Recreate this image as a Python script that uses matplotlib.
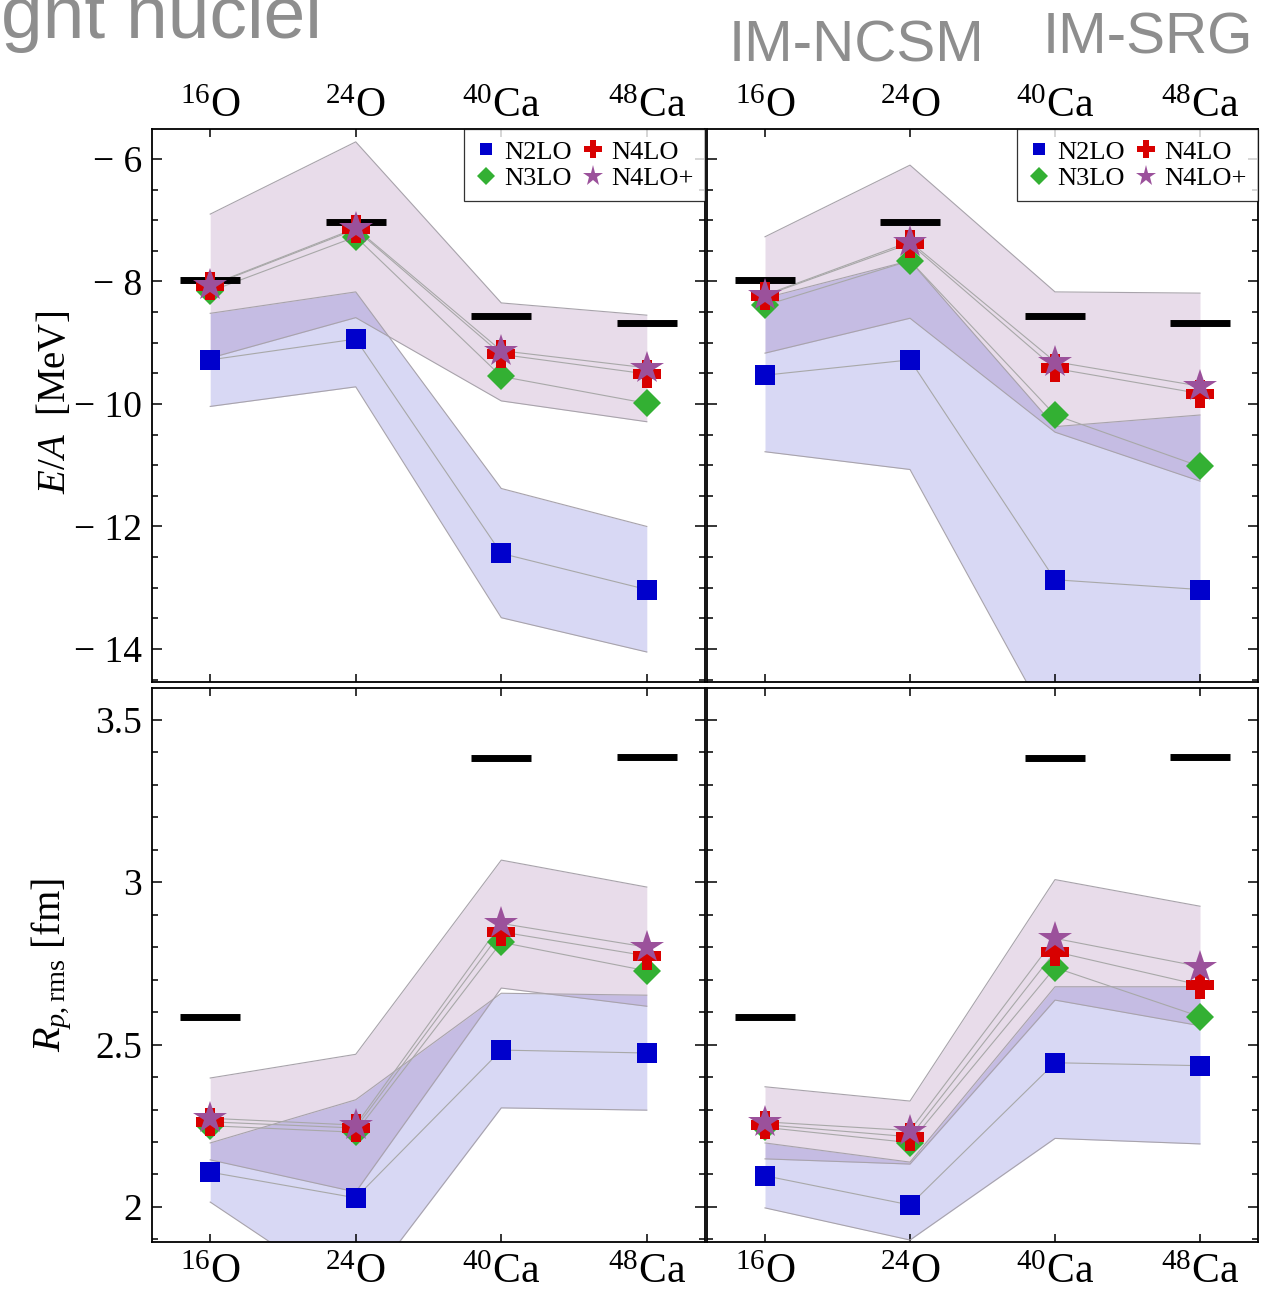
import numpy as np
import matplotlib
matplotlib.use("Agg")
import matplotlib.pyplot as plt
from matplotlib.lines import Line2D
from matplotlib.ticker import MultipleLocator, FixedLocator, FixedFormatter

plt.rcParams['font.family'] = ['Liberation Serif', 'DejaVu Serif']
plt.rcParams['mathtext.fontset'] = 'custom'
plt.rcParams['mathtext.rm'] = 'Liberation Serif'
plt.rcParams['mathtext.it'] = 'Liberation Serif:italic'
plt.rcParams['mathtext.bf'] = 'Liberation Serif:bold'

# ---------------- data ----------------
nuclei = [r'$^{16}$O', r'$^{24}$O', r'$^{40}$Ca', r'$^{48}$Ca']
orders = ['N2LO', 'N3LO', 'N4LO', 'N4LO+']

# binding energy per nucleon [MeV]
ea_exp = [-7.98, -7.03, -8.56, -8.68]

ea_ncsm_n2lo = [-9.28, -8.94, -12.44, -13.03]
ea_ncsm_n3lo = [-8.16, -7.27, -9.55, -9.99]
ea_ncsm_n4lo = [-8.07, -7.15, -9.19, -9.51]
ea_ncsm_n4lop = [-8.06, -7.13, -9.13, -9.41]
ea_ncsm_band_hi_hi = [-6.90, -5.72, -8.35, -8.55]
ea_ncsm_band_hi_lo = [-9.25, -8.59, -9.95, -10.29]
ea_ncsm_band_lo_hi = [-8.52, -8.17, -11.38, -12.00]
ea_ncsm_band_lo_lo = [-10.04, -9.72, -13.49, -14.05]

ea_srg_n2lo = [-9.53, -9.28, -12.87, -13.03]
ea_srg_n3lo = [-8.39, -7.66, -10.18, -11.02]
ea_srg_n4lo = [-8.23, -7.38, -9.42, -9.83]
ea_srg_n4lop = [-8.22, -7.35, -9.31, -9.71]
ea_srg_band_hi_hi = [-7.27, -6.10, -8.17, -8.19]
ea_srg_band_hi_lo = [-9.17, -8.60, -10.46, -11.26]
ea_srg_band_lo_hi = [-8.27, -7.66, -10.37, -10.18]
ea_srg_band_lo_lo = [-10.78, -11.07, -15.39, -15.80]

# point-proton rms radius [fm]
r_exp = [2.585, np.nan, 3.382, 3.385]

r_ncsm_n2lo = [2.107, 2.028, 2.483, 2.474]
r_ncsm_n3lo = [2.250, 2.230, 2.815, 2.727]
r_ncsm_n4lo = [2.262, 2.243, 2.847, 2.773]
r_ncsm_n4lop = [2.273, 2.252, 2.873, 2.800]
r_ncsm_band_hi_hi = [2.397, 2.470, 3.068, 2.985]
r_ncsm_band_hi_lo = [2.145, 2.046, 2.674, 2.618]
r_ncsm_band_lo_hi = [2.197, 2.330, 2.658, 2.652]
r_ncsm_band_lo_lo = [2.015, 1.715, 2.305, 2.298]

r_srg_n2lo = [2.096, 2.006, 2.444, 2.435]
r_srg_n3lo = [2.245, 2.198, 2.737, 2.586]
r_srg_n4lo = [2.253, 2.216, 2.786, 2.683]
r_srg_n4lop = [2.262, 2.235, 2.827, 2.740]
r_srg_band_hi_hi = [2.370, 2.326, 3.008, 2.926]
r_srg_band_hi_lo = [2.148, 2.132, 2.637, 2.558]
r_srg_band_lo_hi = [2.197, 2.138, 2.678, 2.678]
r_srg_band_lo_lo = [1.997, 1.898, 2.211, 2.194]

# ---------------- style ----------------
W, H = 1281, 1310
BAND_HI = (0.55, 0.315, 0.59)
BAND_LO = (0.235, 0.235, 0.785)
EDGE = (0.66, 0.64, 0.67)
LINK = (0.66, 0.66, 0.66)
marker_style = {
    'N2LO': dict(marker='s', color='#0000CC', ms=14),
    'N3LO': dict(marker='D', color='#33B033', ms=14),
    'N4LO': dict(marker='P', color='#D80000', ms=20),
    'N4LO+': dict(marker='*', color='#9B519B', ms=25),
}
YTICK_FS = 27
XTICK_FS = 30
GRAY_TXT = '#8E8E8E'

fig = plt.figure(figsize=(W / 100, H / 100), dpi=100)


def px_axes(x0, y0, x1, y1):
    return fig.add_axes([x0 / W, 1 - y1 / H, (x1 - x0) / W, (y1 - y0) / H])


ax_tl = px_axes(152, 129, 705, 682)
ax_tr = px_axes(707, 129, 1258, 682)
ax_bl = px_axes(152, 688, 705, 1242)
ax_br = px_axes(707, 688, 1258, 1242)

panels = [
    (ax_tl, ea_exp, [ea_ncsm_n2lo, ea_ncsm_n3lo, ea_ncsm_n4lo, ea_ncsm_n4lop],
     (ea_ncsm_band_hi_lo, ea_ncsm_band_hi_hi), (ea_ncsm_band_lo_lo, ea_ncsm_band_lo_hi)),
    (ax_tr, ea_exp, [ea_srg_n2lo, ea_srg_n3lo, ea_srg_n4lo, ea_srg_n4lop],
     (ea_srg_band_hi_lo, ea_srg_band_hi_hi), (ea_srg_band_lo_lo, ea_srg_band_lo_hi)),
    (ax_bl, r_exp, [r_ncsm_n2lo, r_ncsm_n3lo, r_ncsm_n4lo, r_ncsm_n4lop],
     (r_ncsm_band_hi_lo, r_ncsm_band_hi_hi), (r_ncsm_band_lo_lo, r_ncsm_band_lo_hi)),
    (ax_br, r_exp, [r_srg_n2lo, r_srg_n3lo, r_srg_n4lo, r_srg_n4lop],
     (r_srg_band_hi_lo, r_srg_band_hi_hi), (r_srg_band_lo_lo, r_srg_band_lo_hi)),
]

x = np.arange(len(nuclei))
for ax, exp, series, band_hi, band_lo in panels:
    ax.fill_between(x, band_hi[0], band_hi[1], color=BAND_HI, alpha=0.2, lw=0, zorder=1)
    ax.fill_between(x, band_lo[0], band_lo[1], color=BAND_LO, alpha=0.2, lw=0, zorder=1)
    for edge in (*band_hi, *band_lo):
        ax.plot(x, edge, color=EDGE, lw=0.8, zorder=2)
    for vals in series:
        ax.plot(x, vals, color=LINK, lw=0.8, zorder=3)
    e = np.asarray(exp, dtype=float)
    ok = ~np.isnan(e)
    ax.hlines(e[ok], x[ok] - 0.205, x[ok] + 0.205, color='black', lw=5, zorder=4)
    for k, (name, vals) in enumerate(zip(orders, series)):
        st = marker_style[name]
        ax.plot(x, vals, ls='none', marker=st['marker'], ms=st['ms'],
                color=st['color'], mec=st['color'], mew=0, zorder=5 + k)
    ax.set_xlim(-0.4, 3.4)
    for s in ax.spines.values():
        s.set_linewidth(1.3)
    ax.tick_params(which='both', direction='in', top=True, bottom=True,
                   left=True, right=True, width=1.1)
    ax.tick_params(which='major', length=7)
    ax.tick_params(which='minor', length=4.5)
    ax.tick_params(axis='x', which='major', length=6, labelsize=XTICK_FS)
    ax.tick_params(axis='y', pad=7, labelsize=YTICK_FS)
    ax.xaxis.set_major_locator(FixedLocator(x))
    ax.xaxis.set_major_formatter(FixedFormatter(nuclei))

for ax in (ax_tl, ax_tr):
    ax.set_ylim(-14.54, -5.51)
    ax.yaxis.set_major_locator(FixedLocator([-14, -12, -10, -8, -6]))
    ax.yaxis.set_major_formatter(FixedFormatter(['\u2212 14', '\u2212 12', '\u2212 10',
                                                 '\u2212 8', '\u2212 6']))
    ax.yaxis.set_minor_locator(MultipleLocator(0.5))
    ax.tick_params(axis='x', labeltop=True, labelbottom=False, pad=2)

for ax in (ax_bl, ax_br):
    ax.set_ylim(1.892, 3.598)
    ax.yaxis.set_major_locator(FixedLocator([2.0, 2.5, 3.0, 3.5]))
    ax.yaxis.set_major_formatter(FixedFormatter(['2', '2.5', '3', '3.5']))
    ax.yaxis.set_minor_locator(MultipleLocator(0.1))
    ax.tick_params(axis='x', labeltop=False, labelbottom=True, pad=8)

for ax in (ax_tr, ax_br):
    ax.tick_params(axis='y', labelleft=False)

# legends
handles = [Line2D([], [], ls='none', marker=marker_style[n]['marker'],
                  ms=marker_style[n]['ms'], color=marker_style[n]['color'], mew=0)
           for n in orders]
for ax in (ax_tl, ax_tr):
    leg = ax.legend(handles, orders, loc='upper right', bbox_to_anchor=(1.0, 1.0),
                    ncol=2, fontsize=19, markerscale=0.62, frameon=True,
                    fancybox=False, borderaxespad=0.0, borderpad=0.42,
                    handlelength=0.8, handletextpad=0.3, columnspacing=0.4,
                    labelspacing=0.12)
    leg.get_frame().set_edgecolor('black')
    leg.get_frame().set_linewidth(0.9)
    leg.set_zorder(20)

# axis labels
fig.text(55 / W, 1 - 402 / H, r'$E/A$  [MeV]', rotation=90, ha='center',
         va='center', fontsize=28)
fig.text(52 / W, 1 - 965 / H, r'$R_{p,\mathrm{rms}}$ [fm]', rotation=90,
         ha='center', va='center', fontsize=29)

# method headings
fig.text(322 / W, 1 - 38 / H, 'ght nuclei', ha='right', va='baseline',
         fontsize=54, color=GRAY_TXT, family='Liberation Sans')
fig.text(856 / W, 1 - 62 / H, 'IM-NCSM', ha='center', va='baseline',
         fontsize=42, color=GRAY_TXT, family='Liberation Sans')
fig.text(1148 / W, 1 - 53 / H, 'IM-SRG', ha='center', va='baseline',
         fontsize=42, color=GRAY_TXT, family='Liberation Sans')

fig.savefig('out.png', dpi=100)
